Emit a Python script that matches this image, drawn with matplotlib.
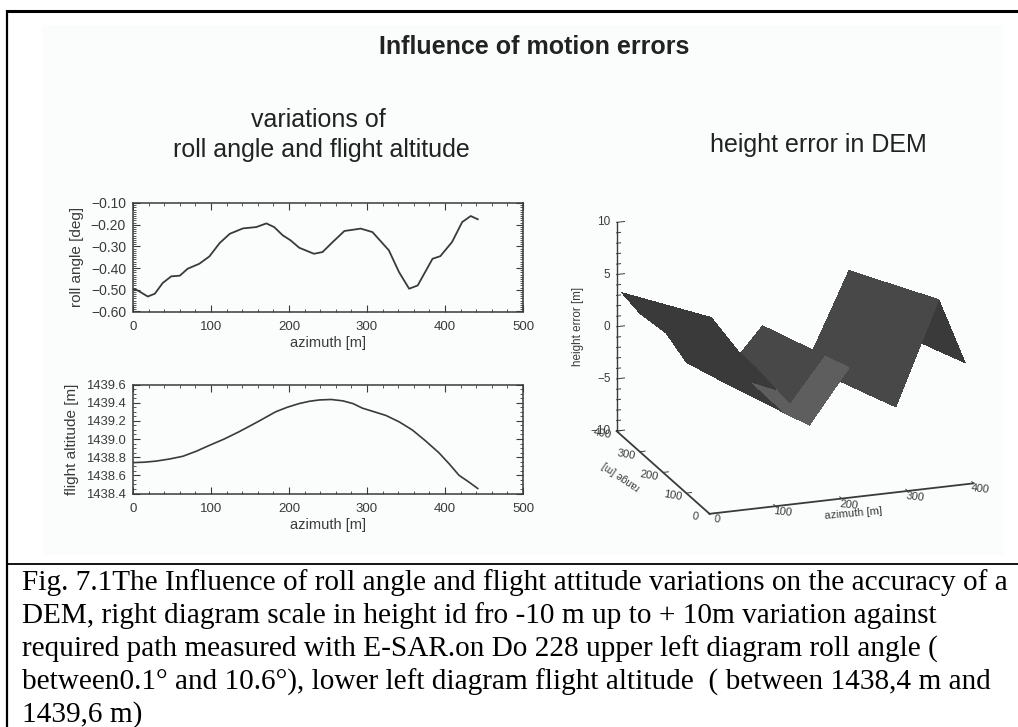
import numpy as np
import matplotlib
matplotlib.use('Agg')
import matplotlib.pyplot as plt
from matplotlib.patches import Rectangle
from matplotlib.ticker import MultipleLocator
from mpl_toolkits.mplot3d import proj3d

W, H = 1018, 727

# Upper left diagram
roll_azimuth = [0, 6, 19, 28, 38, 49, 60, 70, 85, 98, 111, 124, 141, 158, 171, 181,
                192, 202, 213, 232, 243, 256, 271, 292, 307, 328, 341, 354, 365,
                384, 394, 409, 422, 433, 442]
roll_angle = [-0.495, -0.503, -0.531, -0.518, -0.469, -0.438, -0.435, -0.403, -0.380,
              -0.346, -0.285, -0.242, -0.217, -0.211, -0.194, -0.211, -0.249, -0.272,
              -0.306, -0.334, -0.326, -0.280, -0.229, -0.218, -0.234, -0.318, -0.418,
              -0.495, -0.480, -0.357, -0.345, -0.280, -0.188, -0.160, -0.175]
roll_ticks = [-0.60, -0.50, -0.40, -0.30, -0.20, -0.10]

# Lower left diagram
alt_azimuth = [0, 15, 30, 47, 64, 81, 98, 117, 136, 160, 183, 198, 213, 226, 239, 254, 269,
               282, 294, 309, 324, 341, 358, 375, 392, 405, 418, 430, 442]
flight_altitude = [1438.74, 1438.745, 1438.757, 1438.78, 1438.81, 1438.865, 1438.93, 1439.0,
                   1439.08, 1439.19, 1439.30, 1439.35, 1439.39, 1439.415, 1439.43, 1439.435,
                   1439.42, 1439.39, 1439.34, 1439.30, 1439.26, 1439.19, 1439.10, 1438.98,
                   1438.85, 1438.73, 1438.60, 1438.53, 1438.455]
alt_ticks = [1438.4, 1438.6, 1438.8, 1439.0, 1439.2, 1439.4, 1439.6]
azimuth_ticks = [0, 100, 200, 300, 400, 500]

# Right diagram, three rows of the surface, from far to near
surface_range = [400, 110, 0]
surface_azimuth_far = [8, 35, 75, 106, 156, 221, 287, 352, 392]
surface_azimuth_mid = [4, 45, 71, 102, 152, 214, 283, 348, 388]
surface_azimuth_near = [2.5, 43, 70, 100, 151, 211, 282, 347, 387]
height_far = [3.2, 1.05, -1.15, -4.2, -6.24, -1.53, -5.8, 2.8, -2.4]
height_mid = [7.26, 4.13, 2.22, -0.29, -3.6, 1.36, -2.9, 6.57, 0.54]
height_near = [8.8, 5.3, 3.5, 1.2, -2.6, 2.45, -1.8, 8.0, 1.66]
z_ticks = [-10, -5, 0, 5, 10]
ground_ticks = [0, 100, 200, 300, 400]

caption_lines = [
    'Fig. 7.1The Influence of roll angle and flight attitude variations on the accuracy of a',
    'DEM, right diagram scale in height id fro -10 m up to + 10m variation against',
    'required path measured with E-SAR.on Do 228 upper left diagram roll angle (',
    'between0.1° and 10.6°), lower left diagram flight altitude  ( between 1438,4 m and',
    '1439,6 m)',
]

plt.rcParams['font.family'] = ['Liberation Sans', 'DejaVu Sans']
INK = '#3a3a3a'


def px_axes(fig, left, top, right, bottom, **kw):
    return fig.add_axes([left / W, 1 - bottom / H, (right - left) / W, (bottom - top) / H], **kw)


def style_line_axes(ax, yticks, labels, minor, ylabel, ysize, ylabel_x):
    ax.set_xlim(0, 500)
    ax.set_ylim(min(yticks), max(yticks))
    ax.set_xticks(azimuth_ticks)
    ax.xaxis.set_minor_locator(MultipleLocator(20))
    ax.set_yticks(yticks)
    ax.set_yticklabels(labels, fontsize=ysize)
    ax.yaxis.set_minor_locator(MultipleLocator(minor))
    ax.tick_params(which='major', direction='in', length=5, width=0.8, top=True, right=True,
                   colors=INK, pad=5)
    ax.tick_params(axis='x', which='major', labelsize=9.5, pad=7)
    ax.tick_params(which='minor', direction='in', length=2.5, width=0.6, top=True, right=True,
                   colors=INK)
    for s in ax.spines.values():
        s.set_linewidth(1.1)
        s.set_color(INK)
    ax.set_xlabel('azimuth [m]', fontsize=10.5, color=INK, labelpad=2)
    ax.set_ylabel(ylabel, fontsize=11, color=INK)
    ax.yaxis.set_label_coords(ylabel_x, 0.5)
    ax.patch.set_alpha(0)


fig = plt.figure(figsize=(W / 100, H / 100), dpi=100, facecolor='white')

# page background: scanned slide, then the table rules
bg = fig.add_axes([0, 0, 1, 1])
bg.set_xlim(0, W)
bg.set_ylim(H, 0)
bg.axis('off')
bg.add_patch(Rectangle((42, 25), 962, 530, facecolor='#fbfdfd', edgecolor='none'))
bg.plot([6, W], [10.8, 10.8], color='black', lw=2.2, solid_capstyle='butt')
bg.plot([7, 7], [9.5, H], color='black', lw=1.6, solid_capstyle='butt')
bg.plot([6, W], [563.5, 563.5], color='black', lw=1.3, solid_capstyle='butt')

bg.text(534, 47, 'Influence of motion errors', fontsize=18, fontweight='bold',
        ha='center', va='center', color='#222222')
bg.text(318, 120, 'variations of', fontsize=18, ha='center', va='center', color='#222222')
bg.text(321, 150, 'roll angle and flight altitude', fontsize=18, ha='center', va='center',
        color='#222222')
bg.text(818, 145, 'height error in DEM', fontsize=18, ha='center', va='center', color='#222222')

for i, line in enumerate(caption_lines):
    bg.text(22, 583 + i * 33, line, fontsize=21.1, family='Liberation Serif',
            ha='left', va='center', color='black')

# upper left
ax1 = px_axes(fig, 133, 203, 523, 311.5)
ax1.plot(roll_azimuth, roll_angle, color=INK, lw=1.3)
style_line_axes(ax1, roll_ticks, ['\u2212%.2f' % abs(t) for t in roll_ticks], 0.01,
                'roll angle [deg]', 10, -0.126)

# lower left
ax2 = px_axes(fig, 133, 384.5, 523, 493.5)
ax2.plot(alt_azimuth, flight_altitude, color=INK, lw=1.2)
style_line_axes(ax2, alt_ticks, ['%.1f' % t for t in alt_ticks], 0.05,
                'flight altitude [m]', 9.4, -0.138)

# right, surface
ax3 = px_axes(fig, 561, 168, 1019, 548, projection='3d', proj_type='ortho')
ax3.set_box_aspect((845, 826, 663), zoom=1.15)
ax3.view_init(elev=18.7, azim=-109.8)
ax3.set_xlim(0, 400, view_margin=0)
ax3.set_ylim(0, 400, view_margin=0)
ax3.set_zlim(-10, 10, view_margin=0)
ax3.set_axis_off()
ax3.patch.set_alpha(0)

X = np.array([surface_azimuth_far, surface_azimuth_mid, surface_azimuth_near])
Y = np.array([[r] * len(surface_azimuth_far) for r in surface_range])
Z = np.array([height_far, height_mid, height_near])

# grey level of each facet
D, M, L = '#3a3a3a', '#484848', '#5e5e5e'
face_colors = [
    [D, D, D, D, M, M, M, D],
    [D, D, D, L, L, M, M, D],
]
rgba = np.array([[matplotlib.colors.to_rgba(c) for c in row] for row in face_colors])
ax3.plot_surface(X, Y, Z, facecolors=rgba, rstride=1, cstride=1, shade=False,
                 linewidth=0, antialiased=False)

ax3.plot([0, 0], [400, 400], [-10, 10], color=INK, lw=1.0)
ax3.plot([0, 0], [0, 400], [-10, -10], color=INK, lw=1.3)
ax3.plot([0, 400], [0, 0], [-10, -10], color=INK, lw=1.3)
for z in range(-10, 11):
    tick = 12 if z in z_ticks else 6
    ax3.plot([0, tick], [400, 400], [z, z], color=INK, lw=0.7)


def label3d(x, y, z, text, dx, dy, **kw):
    # text placed at a projected 3D position, offset in pixels
    x2, y2, _ = proj3d.proj_transform(x, y, z, ax3.get_proj())
    ax3.annotate(text, xy=(x2, y2), xycoords='data', xytext=(dx, dy),
                 textcoords='offset pixels', color=INK, va='center', **kw)


for z in z_ticks:
    label3d(0, 400, z, ('%d' % z).replace('-', '\u2212'), -6, 0, fontsize=8.5, ha='right')
for t in ground_ticks:
    label3d(t, 0, -10, '%d' % t, 7, -6, fontsize=8, ha='center', rotation=-6)
    label3d(0, t, -10, '%d' % t, -14, -3, fontsize=8, ha='center', rotation=-10)
    ax3.plot([t, t], [0, 8], [-10, -10], color=INK, lw=0.7)
    ax3.plot([0, 8], [t, t], [-10, -10], color=INK, lw=0.7)
label3d(200, 0, -10, 'azimuth [m]', 12, -15, fontsize=8, ha='center', rotation=5)
label3d(0, 240, -10, 'range [m]', -32, -12, fontsize=7.3, ha='center', rotation=146)
label3d(0, 400, 0, 'height error [m]', -39, 0, fontsize=8.4, ha='center', rotation=90)

fig.savefig('out.png', dpi=100)
